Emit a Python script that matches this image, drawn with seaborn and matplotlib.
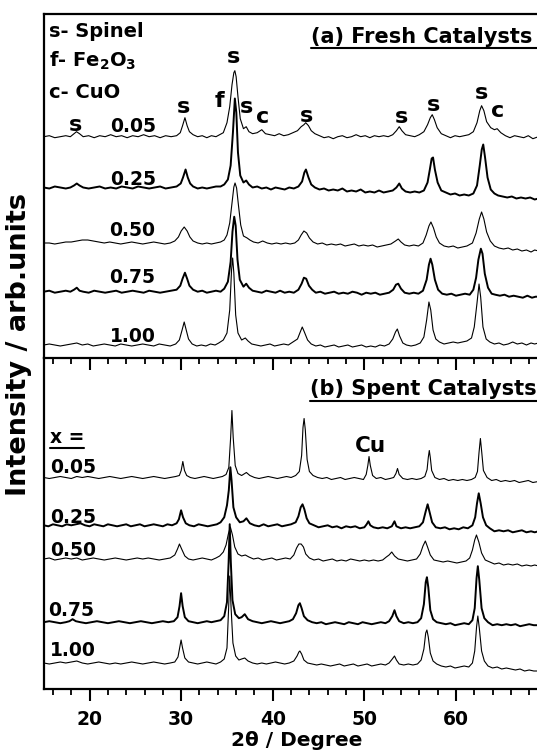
import matplotlib
matplotlib.use("Agg")
import matplotlib.pyplot as plt
import seaborn as sns
import pandas as pd
from matplotlib.ticker import MultipleLocator
from matplotlib.lines import Line2D

# ---------------- data (2theta in degrees, intensity in arb. units) ----------------
fresh_labels = ["0.05", "0.25", "0.50", "0.75", "1.00"]
spent_labels = ["0.05", "0.25", "0.50", "0.75", "1.00"]
fresh_offsets = [221.3, 170.5, 115.0, 66.3, 13.0]
spent_offsets = [211.5, 163.7, 130.0, 66.8, 26.0]

fresh_005 = [(15.0,0),(15.6,1),(16.2,-1),(16.8,0),(17.4,1),(17.9,0),(18.3,3),(18.57,5),(18.9,3),(19.3,0),(19.9,1),(20.5,-1),(21.1,1),(21.7,0),(22.3,2),(22.9,0),(23.5,1),(24.1,-1),(24.7,1),(25.3,0),(25.9,2),(26.5,0),(27.1,1),(27.7,-1),(28.3,1),(28.9,0),(29.5,1),(29.9,4),(30.15,11),(30.41,19),(30.65,11),(30.9,5),(31.3,2),(31.8,0),(32.3,1),(32.8,-1),(33.3,1),(33.8,0),(34.2,2),(34.6,4),(35.0,14),(35.3,30),(35.55,52),(35.75,64),(35.86,66),(36.0,60),(36.2,40),(36.45,18),(36.8,8),(37.1,10),(37.4,5),(37.8,3),(38.3,4),(38.8,7),(39.2,3),(39.7,2),(40.2,1),(40.7,3),(41.2,1),(41.7,2),(42.2,4),(42.7,6),(43.1,10),(43.4,12),(43.6,14),(43.9,11),(44.2,6),(44.6,3),(45.1,1),(45.6,-1),(46.1,0),(46.6,-2),(47.1,0),(47.6,1),(48.1,-1),(48.6,0),(49.1,2),(49.6,0),(50.1,1),(50.6,-1),(51.1,1),(51.6,0),(52.1,1),(52.6,0),(53.1,2),(53.5,6),(53.81,10),(54.1,6),(54.5,2),(55.0,1),(55.5,0),(56.0,2),(56.5,5),(56.9,12),(57.2,19),(57.41,22),(57.65,17),(57.95,9),(58.4,3),(58.9,1),(59.4,-1),(59.9,1),(60.4,0),(60.9,1),(61.4,2),(61.9,5),(62.3,14),(62.6,26),(62.8,31),(63.05,26),(63.35,15),(63.8,9),(64.2,7),(64.5,8),(64.9,4),(65.4,1),(65.9,-1),(66.4,1),(66.9,0),(67.4,-1),(67.9,1),(68.4,-2),(69.0,0)]
fresh_025 = [(15.0,0),(15.6,-1),(16.2,1),(16.8,0),(17.4,-1),(17.9,0),(18.3,2),(18.6,4),(18.9,2),(19.3,0),(19.9,-1),(20.5,0),(21.1,1),(21.7,-1),(22.3,0),(22.9,-1),(23.5,1),(24.1,0),(24.7,-1),(25.3,1),(25.9,0),(26.5,-1),(27.1,0),(27.7,1),(28.3,-1),(28.9,0),(29.5,1),(29.95,4),(30.2,10),(30.48,18),(30.72,10),(30.98,4),(31.3,1),(31.8,-1),(32.3,0),(32.8,-1),(33.3,0),(33.8,1),(34.3,1),(34.7,3),(35.1,8),(35.4,22),(35.65,55),(35.86,89),(36.02,75),(36.2,35),(36.45,12),(36.8,5),(37.1,7),(37.4,3),(37.8,0),(38.3,1),(38.8,-1),(39.3,0),(39.8,-2),(40.3,0),(40.8,-1),(41.3,-2),(41.8,0),(42.3,-1),(42.8,1),(43.2,6),(43.45,15),(43.62,18),(43.9,10),(44.2,3),(44.6,0),(45.1,-2),(45.6,-1),(46.1,-3),(46.6,-2),(47.1,-3),(47.6,-1),(48.1,-4),(48.6,-3),(49.1,-4),(49.6,-2),(50.1,-5),(50.6,-4),(51.1,-5),(51.6,-3),(52.1,-5),(52.6,-4),(53.1,-3),(53.5,0),(53.81,4),(54.1,-1),(54.5,-4),(55.0,-5),(55.5,-4),(56.0,-5),(56.5,-3),(56.9,5),(57.15,18),(57.35,29),(57.5,30),(57.7,18),(58.0,5),(58.4,-3),(58.9,-5),(59.4,-7),(59.9,-6),(60.4,-8),(60.9,-7),(61.4,-8),(61.9,-6),(62.3,2),(62.6,22),(62.82,38),(62.98,43),(63.18,30),(63.45,10),(63.8,-2),(64.2,-6),(64.6,-8),(65.1,-9),(65.6,-10),(66.1,-9),(66.6,-11),(67.1,-10),(67.6,-11),(68.1,-10),(68.6,-12),(69.0,-11)]
fresh_050 = [(15.0,0),(15.6,0),(16.2,-1),(16.8,0),(17.4,1),(18.0,1),(18.6,2),(19.2,3),(19.8,3),(20.4,2),(21.0,1),(21.6,0),(22.2,1),(22.8,0),(23.4,-1),(24.0,0),(24.6,1),(25.2,0),(25.8,-1),(26.4,0),(27.0,1),(27.6,0),(28.2,-1),(28.8,0),(29.3,2),(29.7,6),(30.0,12),(30.33,16),(30.65,12),(30.95,6),(31.3,2),(31.8,0),(32.3,-1),(32.8,0),(33.3,-1),(33.8,0),(34.3,1),(34.7,3),(35.0,8),(35.3,20),(35.55,40),(35.75,56),(35.88,60),(36.05,55),(36.25,38),(36.5,18),(36.8,7),(37.2,5),(37.5,3),(37.9,1),(38.4,0),(38.9,2),(39.4,0),(39.9,-1),(40.4,0),(40.9,-1),(41.4,0),(41.9,-1),(42.4,0),(42.8,3),(43.1,8),(43.4,12),(43.7,10),(44.0,5),(44.4,1),(44.9,-1),(45.4,0),(45.9,-2),(46.4,-1),(46.9,-2),(47.4,-1),(47.9,-3),(48.4,-2),(48.9,-1),(49.4,-3),(49.9,-2),(50.4,-3),(50.9,-2),(51.4,-4),(51.9,-3),(52.4,-2),(52.9,-1),(53.4,2),(53.7,4),(54.0,1),(54.4,-2),(54.9,-3),(55.4,-2),(55.9,-3),(56.4,0),(56.75,8),(57.05,17),(57.27,21),(57.55,15),(57.85,6),(58.2,0),(58.7,-3),(59.2,-4),(59.7,-3),(60.2,-5),(60.7,-4),(61.2,-3),(61.8,0),(62.2,10),(62.55,24),(62.8,31),(63.05,24),(63.35,11),(63.75,2),(64.2,-3),(64.7,-5),(65.2,-6),(65.7,-5),(66.2,-7),(66.7,-6),(67.2,-8),(67.7,-7),(68.2,-9),(68.6,-7),(69.0,-8)]
fresh_075 = [(15.0,0),(15.6,1),(16.2,-1),(16.8,0),(17.4,1),(17.9,0),(18.3,2),(18.6,4),(18.9,1),(19.3,0),(19.9,-1),(20.5,1),(21.1,0),(21.7,-1),(22.3,0),(22.9,1),(23.5,-1),(24.1,0),(24.7,1),(25.3,0),(25.9,-1),(26.5,1),(27.1,0),(27.7,-1),(28.3,0),(28.9,1),(29.5,2),(29.9,6),(30.15,13),(30.41,19),(30.65,13),(30.9,6),(31.3,2),(31.8,0),(32.3,1),(32.8,-1),(33.3,0),(33.8,1),(34.3,0),(34.7,3),(35.1,10),(35.4,30),(35.6,60),(35.79,75),(35.95,66),(36.15,32),(36.4,12),(36.8,5),(37.1,8),(37.4,4),(37.8,1),(38.3,0),(38.8,-1),(39.3,1),(39.8,0),(40.3,-1),(40.8,1),(41.3,-1),(41.8,0),(42.3,-1),(42.8,2),(43.15,8),(43.4,14),(43.65,13),(43.95,6),(44.3,2),(44.7,-1),(45.2,0),(45.7,-2),(46.2,-1),(46.7,0),(47.2,-2),(47.7,-1),(48.2,-2),(48.7,0),(49.2,-1),(49.7,-3),(50.2,-1),(50.7,-2),(51.2,-1),(51.7,-3),(52.2,-2),(52.7,-1),(53.15,2),(53.45,7),(53.7,8),(54.0,3),(54.4,-1),(54.9,-2),(55.4,-1),(55.9,-2),(56.4,1),(56.8,12),(57.05,27),(57.23,33),(57.42,27),(57.7,12),(58.05,2),(58.5,-2),(59.0,-3),(59.5,-2),(60.0,-4),(60.5,-3),(61.0,-2),(61.5,-3),(61.9,2),(62.2,14),(62.45,32),(62.72,43),(62.9,38),(63.15,18),(63.5,4),(63.9,-2),(64.3,-3),(64.8,-4),(65.3,-3),(65.8,-5),(66.3,-4),(66.8,-5),(67.3,-6),(67.8,-4),(68.3,-6),(68.7,-5),(69.0,-5)]
fresh_100 = [(15.0,0),(15.6,1),(16.2,0),(16.8,-1),(17.4,0),(18.0,1),(18.6,2),(19.2,0),(19.8,1),(20.4,-1),(21.0,0),(21.6,1),(22.2,0),(22.8,-1),(23.4,1),(24.0,0),(24.6,-1),(25.2,0),(25.8,1),(26.4,0),(27.0,-1),(27.6,1),(28.2,0),(28.8,-1),(29.4,1),(29.8,5),(30.1,15),(30.33,23),(30.55,15),(30.8,6),(31.2,1),(31.7,-1),(32.2,0),(32.7,-1),(33.2,1),(33.7,0),(34.1,2),(34.6,5),(35.0,12),(35.3,35),(35.5,75),(35.62,87),(35.75,72),(35.95,30),(36.2,12),(36.6,5),(37.0,7),(37.3,4),(37.7,1),(38.2,0),(38.7,-1),(39.2,0),(39.7,1),(40.2,-1),(40.7,0),(41.2,1),(41.7,0),(42.2,3),(42.7,6),(43.0,13),(43.22,18),(43.45,13),(43.8,5),(44.2,1),(44.7,-1),(45.2,0),(45.7,-2),(46.2,-1),(46.7,0),(47.2,-2),(47.7,-1),(48.2,0),(48.7,-2),(49.2,-1),(49.7,0),(50.2,-2),(50.7,-1),(51.2,-2),(51.7,0),(52.2,-1),(52.7,1),(53.1,6),(53.4,13),(53.6,16),(53.85,9),(54.2,2),(54.6,0),(55.1,-1),(55.6,0),(56.1,2),(56.5,8),(56.8,25),(57.05,43),(57.25,35),(57.5,15),(57.8,6),(58.2,3),(58.7,1),(59.2,2),(59.7,3),(60.2,2),(60.7,3),(61.2,4),(61.7,7),(62.0,18),(62.3,42),(62.52,61),(62.7,48),(62.95,18),(63.3,6),(63.7,3),(64.2,1),(64.7,2),(65.2,0),(65.7,1),(66.2,3),(66.7,1),(67.2,2),(67.7,0),(68.2,2),(68.6,1),(69.0,2)]

spent_005 = [(15.0,0),(15.6,-1),(16.2,0),(16.8,1),(17.4,0),(18.0,-1),(18.6,1),(19.2,0),(19.8,1),(20.4,0),(21.0,-1),(21.6,0),(22.2,1),(22.8,0),(23.4,-1),(24.0,0),(24.6,1),(25.2,0),(25.8,-1),(26.4,0),(27.0,1),(27.6,0),(28.2,-1),(28.8,0),(29.4,1),(29.8,2),(30.0,7),(30.18,16),(30.36,7),(30.6,2),(31.0,0),(31.5,-1),(32.0,0),(32.5,1),(33.0,0),(33.5,-1),(34.0,0),(34.5,1),(34.9,3),(35.2,10),(35.4,40),(35.54,67),(35.68,40),(35.9,12),(36.2,4),(36.6,2),(37.12,5),(37.5,2),(38.0,0),(38.5,-1),(39.0,0),(39.5,1),(40.0,0),(40.5,-1),(41.0,0),(41.5,1),(42.0,0),(42.5,2),(42.9,6),(43.15,22),(43.3,50),(43.42,59),(43.55,48),(43.75,18),(44.0,6),(44.4,2),(44.9,0),(45.4,-1),(45.9,0),(46.4,-2),(46.9,-1),(47.4,0),(47.9,-2),(48.4,-1),(48.9,0),(49.4,-1),(49.9,-2),(50.2,3),(50.38,12),(50.51,21),(50.65,12),(50.9,2),(51.3,-1),(51.8,0),(52.3,-2),(52.8,-1),(53.2,0),(53.45,4),(53.62,9),(53.8,3),(54.2,-1),(54.7,-2),(55.2,-1),(55.7,-2),(56.2,-1),(56.6,1),(56.85,8),(56.98,20),(57.09,27),(57.2,20),(57.35,7),(57.7,0),(58.2,-2),(58.7,-1),(59.2,-3),(59.7,-2),(60.2,-3),(60.7,-2),(61.2,-3),(61.7,-2),(62.1,0),(62.35,6),(62.52,25),(62.67,39),(62.82,25),(63.0,7),(63.4,0),(63.9,-3),(64.4,-2),(64.9,-4),(65.4,-3),(65.9,-4),(66.4,-3),(66.9,-5),(67.4,-4),(67.9,-3),(68.4,-5),(69.0,-4)]
spent_025 = [(15.0,0),(15.5,-1),(16.0,1),(16.5,0),(17.0,-1),(17.5,1),(18.0,0),(18.5,1),(19.0,2),(19.5,0),(20.0,-1),(20.5,1),(21.0,0),(21.5,-1),(22.0,1),(22.5,0),(23.0,-1),(23.5,0),(24.0,1),(24.5,-1),(25.0,0),(25.5,1),(26.0,-1),(26.5,0),(27.0,1),(27.5,0),(28.0,-1),(28.5,1),(29.0,0),(29.5,2),(29.75,6),(29.99,15),(30.2,8),(30.5,2),(30.9,0),(31.4,-1),(31.9,1),(32.4,0),(32.9,-1),(33.4,0),(33.9,1),(34.3,3),(34.7,8),(35.0,20),(35.2,35),(35.37,58),(35.5,45),(35.7,18),(36.0,8),(36.4,3),(36.8,4),(37.12,7),(37.5,2),(38.0,0),(38.5,-1),(39.0,1),(39.5,-1),(40.0,0),(40.5,1),(41.0,-1),(41.5,0),(42.0,1),(42.5,3),(42.8,9),(43.05,18),(43.25,21),(43.45,16),(43.7,7),(44.0,2),(44.5,0),(45.0,-2),(45.5,-1),(46.0,0),(46.5,-2),(47.0,-1),(47.5,-3),(48.0,-1),(48.5,-2),(49.0,-1),(49.5,-3),(50.0,-2),(50.25,1),(50.44,4),(50.65,0),(51.0,-2),(51.5,-3),(52.0,-2),(52.5,-3),(53.0,-1),(53.29,4),(53.5,-1),(54.0,-3),(54.5,-2),(55.0,-3),(55.5,-2),(56.0,-1),(56.4,3),(56.7,14),(56.91,21),(57.1,14),(57.4,3),(57.8,-2),(58.3,-3),(58.8,-2),(59.3,-4),(59.8,-3),(60.3,-4),(60.8,-2),(61.3,-3),(61.8,0),(62.1,8),(62.3,22),(62.49,32),(62.7,22),(62.95,8),(63.3,0),(63.7,-3),(64.2,-6),(64.7,-5),(65.2,-6),(65.7,-5),(66.2,-7),(66.7,-6),(67.2,-5),(67.7,-7),(68.2,-6),(68.6,-7),(69.0,-6)]
spent_050 = [(15.0,0),(15.6,1),(16.2,-1),(16.8,0),(17.4,1),(18.0,0),(18.6,1),(19.2,-1),(19.8,0),(20.4,1),(21.0,0),(21.6,-1),(22.2,0),(22.8,1),(23.4,0),(24.0,-1),(24.6,0),(25.2,1),(25.8,0),(26.4,1),(27.0,0),(27.6,-1),(28.2,0),(28.8,1),(29.3,4),(29.6,10),(29.81,15),(30.05,10),(30.4,3),(30.8,0),(31.3,-1),(31.8,0),(32.3,1),(32.8,0),(33.3,-1),(33.8,1),(34.2,3),(34.6,7),(34.9,14),(35.15,25),(35.37,32),(35.6,24),(35.85,12),(36.2,5),(36.6,3),(37.0,4),(37.4,2),(37.9,0),(38.4,1),(38.9,-1),(39.4,0),(39.9,1),(40.4,-1),(40.9,0),(41.4,1),(41.9,0),(42.3,4),(42.6,11),(42.85,15),(43.1,15),(43.35,12),(43.6,5),(44.0,1),(44.5,-1),(45.0,0),(45.5,-2),(46.0,-1),(46.5,0),(47.0,-2),(47.5,-1),(48.0,-2),(48.5,0),(49.0,-1),(49.5,-2),(50.0,-1),(50.5,-2),(51.0,-1),(51.5,-2),(52.0,-1),(52.4,2),(52.7,4),(52.99,7),(53.3,3),(53.7,0),(54.2,-1),(54.7,-2),(55.2,-1),(55.7,0),(56.1,5),(56.4,13),(56.66,18),(56.9,12),(57.2,4),(57.6,-1),(58.1,-2),(58.6,-3),(59.1,-2),(59.6,-3),(60.1,-4),(60.6,-3),(61.1,-2),(61.5,1),(61.8,9),(62.05,19),(62.24,24),(62.5,17),(62.8,6),(63.2,-1),(63.7,-3),(64.2,-5),(64.7,-4),(65.2,-6),(65.7,-5),(66.2,-6),(66.7,-5),(67.2,-7),(67.7,-6),(68.2,-7),(68.6,-6),(69.0,-7)]
spent_075 = [(15.0,0),(15.6,1),(16.2,0),(16.8,-1),(17.4,0),(17.8,1),(18.14,3),(18.5,1),(19.0,0),(19.6,-1),(20.2,0),(20.8,1),(21.4,0),(22.0,-1),(22.6,0),(23.2,1),(23.8,0),(24.4,-1),(25.0,0),(25.6,1),(26.2,0),(26.8,-1),(27.4,0),(28.0,1),(28.6,0),(29.2,1),(29.6,5),(29.82,16),(29.99,29),(30.16,16),(30.4,5),(30.8,1),(31.3,0),(31.8,-1),(32.3,0),(32.8,1),(33.3,0),(33.8,1),(34.3,2),(34.7,6),(35.0,20),(35.18,60),(35.3,98),(35.42,60),(35.6,22),(35.9,8),(36.3,4),(36.6,5),(36.94,8),(37.3,3),(37.8,1),(38.3,0),(38.8,-1),(39.3,0),(39.8,1),(40.3,0),(40.8,-1),(41.3,0),(41.8,1),(42.2,3),(42.55,9),(42.8,17),(42.96,19),(43.15,14),(43.4,6),(43.8,2),(44.3,0),(44.8,-1),(45.3,0),(45.8,-2),(46.3,-1),(46.8,0),(47.3,-1),(47.8,-2),(48.3,0),(48.8,-1),(49.3,-2),(49.8,0),(50.3,-1),(50.8,-2),(51.3,-1),(51.8,0),(52.3,-1),(52.7,1),(53.05,6),(53.29,12),(53.5,6),(53.8,1),(54.3,-1),(54.8,0),(55.3,-1),(55.8,0),(56.2,4),(56.5,18),(56.7,40),(56.83,45),(56.98,35),(57.2,12),(57.5,3),(57.9,0),(58.4,-1),(58.9,-2),(59.4,-1),(59.9,-3),(60.4,-2),(60.9,-1),(61.4,-2),(61.8,2),(62.05,14),(62.25,44),(62.39,56),(62.55,42),(62.8,14),(63.1,4),(63.5,0),(64.0,-3),(64.5,-2),(65.0,-3),(65.5,-2),(66.0,-3),(66.5,-2),(67.0,-4),(67.5,-3),(68.0,-2),(68.5,-3),(69.0,-3)]
spent_100 = [(15.0,0),(15.6,-1),(16.2,0),(16.8,1),(17.4,0),(18.0,1),(18.6,2),(19.2,0),(19.8,-1),(20.4,0),(21.0,1),(21.6,0),(22.2,-1),(22.8,0),(23.4,-1),(24.0,0),(24.6,1),(25.2,0),(25.8,-1),(26.4,0),(27.0,1),(27.6,0),(28.2,-1),(28.8,0),(29.3,1),(29.65,6),(29.85,16),(29.99,23),(30.15,15),(30.4,5),(30.8,1),(31.3,0),(31.8,-1),(32.3,0),(32.8,1),(33.3,0),(33.8,-1),(34.3,1),(34.7,4),(35.0,15),(35.18,55),(35.3,87),(35.45,55),(35.65,20),(35.95,7),(36.3,3),(36.6,4),(36.94,5),(37.3,2),(37.8,0),(38.3,-1),(38.8,0),(39.3,-1),(39.8,0),(40.3,1),(40.8,0),(41.3,-1),(41.8,0),(42.3,2),(42.65,7),(42.85,11),(42.96,12),(43.15,9),(43.4,3),(43.8,0),(44.3,-1),(44.8,-2),(45.3,-1),(45.8,-2),(46.3,-3),(46.8,-2),(47.3,-1),(47.8,-3),(48.3,-2),(48.8,-1),(49.3,-3),(49.8,-2),(50.3,-1),(50.8,-3),(51.3,-2),(51.8,-1),(52.3,-2),(52.7,0),(53.05,4),(53.29,7),(53.5,3),(53.8,-1),(54.3,-2),(54.8,-1),(55.3,-2),(55.8,-1),(56.2,3),(56.5,14),(56.7,30),(56.83,33),(56.98,26),(57.2,10),(57.5,2),(57.9,-1),(58.4,-3),(58.9,-4),(59.4,-3),(59.9,-5),(60.4,-4),(60.9,-3),(61.4,-4),(61.8,0),(62.05,12),(62.25,36),(62.39,47),(62.55,35),(62.8,12),(63.1,2),(63.5,-3),(64.0,-5),(64.5,-4),(65.0,-6),(65.5,-5),(66.0,-6),(66.5,-7),(67.0,-6),(67.5,-8),(68.0,-7),(68.5,-8),(69.0,-8)]

fresh_patterns = [fresh_005, fresh_025, fresh_050, fresh_075, fresh_100]
spent_patterns = [spent_005, spent_025, spent_050, spent_075, spent_100]
line_widths = [0.8, 1.4, 0.8, 1.4, 0.8]

# ---------------- figure ----------------
sns.set_theme(style="ticks")
plt.rcParams['font.family'] = ['DejaVu Sans']
plt.rcParams['font.weight'] = 'bold'
plt.rcParams['mathtext.fontset'] = 'dejavusans'
plt.rcParams['mathtext.default'] = 'bf'
plt.rcParams['xtick.color'] = 'black'
plt.rcParams['xtick.labelcolor'] = 'black'

W, H = 537, 750
fig = plt.figure(figsize=(W / 100, H / 100), dpi=100)

def fx(px):
    return px / W

def fy(py):
    return 1 - py / H

L = 43.8
ax_bot = fig.add_axes([fx(L), fy(689), 1 - fx(L), (689 - 358) / H])
ax_top = fig.add_axes([fx(L), fy(358), 1 - fx(L), (358 - 14) / H], sharex=ax_bot)

def draw_panel(ax, patterns, offsets):
    for pts, off, lw in zip(patterns, offsets, line_widths):
        df = pd.DataFrame(pts, columns=["two_theta", "intensity"])
        df["y"] = df["intensity"] + off
        sns.lineplot(data=df, x="two_theta", y="y", ax=ax, color="black",
                     lw=lw, estimator=None, sort=False)

draw_panel(ax_top, fresh_patterns, fresh_offsets)
draw_panel(ax_bot, spent_patterns, spent_offsets)

ax_top.set_ylim(0, 344)
ax_bot.set_ylim(0, 331)
ax_top.set_xlim(15, 68.85)

for ax in (ax_top, ax_bot):
    ax.set_xlabel("")
    ax.set_ylabel("")
    ax.set_yticks([])
    ax.spines["right"].set_visible(False)
    for s in ("left", "top", "bottom"):
        ax.spines[s].set_linewidth(1.6)
        ax.spines[s].set_color("black")
    ax.xaxis.set_major_locator(MultipleLocator(10))
    ax.xaxis.set_minor_locator(MultipleLocator(2))
    ax.tick_params(axis="x", which="major", direction="out", length=8.5,
                   width=1.5, color="black", bottom=True, top=False)
    ax.tick_params(axis="x", which="minor", direction="out", length=4.5,
                   width=1.3, color="black", bottom=True, top=False)
    ax.patch.set_visible(False)

ax_top.tick_params(axis="x", which="both", labelbottom=False)
ax_bot.spines["top"].set_visible(False)
ax_bot.tick_params(axis="x", which="major", labelsize=13.5, pad=6.5,
                   labelcolor="black")
for lab in ax_bot.get_xticklabels():
    lab.set_fontweight("bold")
    lab.set_color("black")

def ptext(px, py, s, size, ha="left", va="baseline", **kw):
    return fig.text(fx(px), fy(py), s, fontsize=size, ha=ha, va=va,
                    fontweight="bold", color="black", **kw)

# legend of phases
ptext(49, 36.7, "s- Spinel", 14)
ptext(49, 67, r"f- Fe$_2$O$_3$", 14)
ptext(49, 98.3, "c- CuO", 14)

# titles
t_a = ptext(311, 42.7, "(a) Fresh Catalysts", 15)
t_b = ptext(310, 395, "(b) Spent Catalysts", 15)

# sample labels
for lab, (px, py) in zip(fresh_labels, [(110, 132.3), (110, 185), (109, 236), (109, 283.3), (110, 341.7)]):
    ptext(px, py, lab, 13.5)
t_x = ptext(50, 443.3, "x =", 13.5)
for lab, (px, py) in zip(spent_labels, [(50, 473), (50, 523), (50, 555.5), (48.5, 615.5), (50, 655.5)]):
    ptext(px, py, lab, 13.5)

# peak assignments
peak_marks = [("s", 75.8, 130.7), ("s", 183.3, 113.3), ("f", 219.3, 107.3), ("s", 234, 63.3),
              ("s", 246.3, 112.7), ("c", 263, 123.3), ("s", 306.7, 121.7), ("s", 401, 123.3),
              ("s", 433, 111), ("s", 482, 99.3), ("c", 497.5, 116.7)]
for s, px, py in peak_marks:
    ptext(px, py, s, 16, ha="center")
ptext(370, 452.3, "Cu", 15.5, ha="center")

# axis labels
ptext(296.6, 745.5, "2θ / Degree", 14.5, ha="center")
ptext(19, 344, "Intensity / arb.units", 19.5, ha="center", va="center", rotation=90)

# underlines
fig.canvas.draw()
r = fig.canvas.get_renderer()
def underline(t, py, x1=None):
    bb = t.get_window_extent(r)
    x0 = bb.x0
    x1 = bb.x1 if x1 is None else x1
    fig.add_artist(Line2D([x0 / W, x1 / W], [fy(py), fy(py)], transform=fig.transFigure,
                          color="black", lw=1.5))
underline(t_a, 47.7, W)
underline(t_b, 400.5, W)
underline(t_x, 448.3)

fig.savefig("out.png", dpi=100, facecolor="white")
